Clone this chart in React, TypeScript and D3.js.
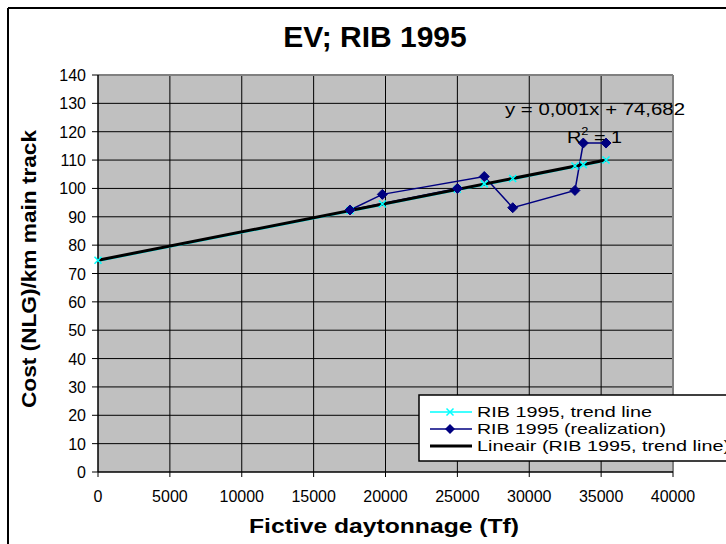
import React from "react";
import * as d3 from "d3";

const title = "EV; RIB 1995";
const xTitle = "Fictive daytonnage (Tf)";
const yTitle = "Cost (NLG)/km main track";
const xTicks = [0, 5000, 10000, 15000, 20000, 25000, 30000, 35000, 40000];
const yTicks = [0, 10, 20, 30, 40, 50, 60, 70, 80, 90, 100, 110, 120, 130, 140];

// RIB 1995, trend line (cyan, x markers)
const trendX = [0, 17530, 19780, 25000, 26870, 28850, 33180, 33760, 35340];
const trendY = [74.7, 92.2, 94.5, 99.7, 101.6, 103.5, 107.9, 108.4, 110.0];

// RIB 1995 (realization) (navy, diamonds)
const realX = [25000, 17530, 19780, 26870, 28850, 33180, 33760, 35340];
const realY = [100.0, 92.4, 97.9, 104.2, 93.2, 99.3, 116.0, 116.0];

// Lineair (RIB 1995, trend line)
const linX = [0, 35340];
const linY = [74.682, 110.0];

const legendLabels = [
  "RIB 1995, trend line",
  "RIB 1995 (realization)",
  "Lineair (RIB 1995, trend line)",
];

const FONT = "'Liberation Sans', Arial, sans-serif";

export default function App() {
  const x = d3.scaleLinear().domain([0, 40000]).range([98, 673]);
  const y = d3.scaleLinear().domain([0, 140]).range([472, 75]);
  const [x0, x1] = x.range();
  const [yb, yt] = y.range();

  const line = d3
    .line<[number, number]>()
    .x((d) => x(d[0]))
    .y((d) => y(d[1]));

  const trendPts: [number, number][] = trendX.map((v, i) => [v, trendY[i]]);
  const realPts: [number, number][] = realX.map((v, i) => [v, realY[i]]);
  const linPts: [number, number][] = linX.map((v, i) => [v, linY[i]]);

  const diamond = (cx: number, cy: number, r: number) =>
    `M${cx},${cy - r}L${cx + r},${cy}L${cx},${cy + r}L${cx - r},${cy}Z`;
  const cross = (cx: number, cy: number, r: number) =>
    `M${cx - r},${cy - r}L${cx + r},${cy + r}M${cx - r},${cy + r}L${cx + r},${cy - r}`;

  const legX = 419;
  const legY = 395;
  const rowY = [412, 429, 446];

  return (
    <svg
      width={726}
      height={544}
      style={{ position: "absolute", left: 0, top: 0, background: "#fff" }}
      fontFamily={FONT}
    >
      {/* chart area border (top and left visible) */}
      <line x1={8} y1={8} x2={726} y2={8} stroke="#000" strokeWidth={2} />
      <line x1={8} y1={8} x2={8} y2={544} stroke="#000" strokeWidth={2} />

      {/* title */}
      <text x={375} y={47} textAnchor="middle" fontSize={30} fontWeight="bold">
        {title}
      </text>

      {/* plot area */}
      <rect x={x0} y={yt} width={x1 - x0} height={yb - yt} fill="#c0c0c0" />

      {/* gridlines */}
      {yTicks.slice(1, -1).map((t) => (
        <line key={"gy" + t} x1={x0} x2={x1} y1={y(t)} y2={y(t)} stroke="#000" strokeWidth={1} />
      ))}
      {xTicks.slice(1, -1).map((t) => (
        <line key={"gx" + t} y1={yt} y2={yb} x1={x(t)} x2={x(t)} stroke="#000" strokeWidth={1} />
      ))}
      {/* plot border top/right */}
      <line x1={x0} x2={x1} y1={yt} y2={yt} stroke="#808080" strokeWidth={2} />
      <line x1={x1} x2={x1} y1={yt} y2={yb} stroke="#808080" strokeWidth={2} />

      {/* axes */}
      <line x1={x0} x2={x1} y1={yb} y2={yb} stroke="#000" strokeWidth={1.5} />
      <line x1={x0} x2={x0} y1={yt} y2={yb} stroke="#000" strokeWidth={1.5} />
      {yTicks.map((t) => (
        <g key={"ty" + t}>
          <line x1={x0 - 6} x2={x0} y1={y(t)} y2={y(t)} stroke="#000" strokeWidth={1} />
          <text x={86} y={y(t) + 6} textAnchor="end" fontSize={16}>
            {t}
          </text>
        </g>
      ))}
      {xTicks.map((t) => (
        <g key={"tx" + t}>
          <line x1={x(t)} x2={x(t)} y1={yb} y2={yb + 5} stroke="#000" strokeWidth={1} />
          <text x={x(t)} y={502} textAnchor="middle" fontSize={16}>
            {t}
          </text>
        </g>
      ))}

      {/* axis titles */}
      <text
        x={384}
        y={533}
        textAnchor="middle"
        fontSize={21}
        fontWeight="bold"
        textLength={270}
        lengthAdjust="spacingAndGlyphs"
      >
        {xTitle}
      </text>
      <text
        transform={`translate(36,269) rotate(-90)`}
        textAnchor="middle"
        fontSize={20}
        fontWeight="bold"
        textLength={278}
        lengthAdjust="spacingAndGlyphs"
      >
        {yTitle}
      </text>

      {/* series */}
      <path d={line(trendPts) || ""} fill="none" stroke="#00ffff" strokeWidth={1.5} transform="translate(0,1)" />
      <path d={line(realPts) || ""} fill="none" stroke="#000080" strokeWidth={1.5} />
      <path d={line(linPts) || ""} fill="none" stroke="#000" strokeWidth={3} />
      {trendPts.map((d, i) => (
        <path key={"tm" + i} d={cross(x(d[0]), y(d[1]), 3.5)} stroke="#00ffff" strokeWidth={1.5} fill="none" />
      ))}
      {realPts.map((d, i) => (
        <path key={"rm" + i} d={diamond(x(d[0]), y(d[1]), 5)} fill="#000080" stroke="#000080" />
      ))}

      {/* trendline equation */}
      <text
        x={505}
        y={115}
        fontSize={17}
        textLength={180}
        lengthAdjust="spacingAndGlyphs"
      >
        y = 0,001x + 74,682
      </text>
      <text x={567} y={143} fontSize={17} textLength={55} lengthAdjust="spacingAndGlyphs">
        R<tspan fontSize={11} dy={-8}>2</tspan>
        <tspan dy={8}> = 1</tspan>
      </text>

      {/* legend */}
      <rect x={legX} y={legY} width={400} height={66} fill="#fff" stroke="#000" strokeWidth={1.5} />
      <line x1={430} x2={472} y1={rowY[0]} y2={rowY[0]} stroke="#00ffff" strokeWidth={1.5} />
      <path d={cross(450, rowY[0], 3.5)} stroke="#00ffff" strokeWidth={1.5} fill="none" />
      <line x1={430} x2={472} y1={rowY[1]} y2={rowY[1]} stroke="#000080" strokeWidth={1.5} />
      <path d={diamond(450, rowY[1], 5)} fill="#000080" />
      <line x1={430} x2={472} y1={rowY[2]} y2={rowY[2]} stroke="#000" strokeWidth={3} />
      {legendLabels.map((l, i) => (
        <text
          key={l}
          x={477}
          y={rowY[i] + 5}
          fontSize={15}
          textLength={[175, 189, 253][i]}
          lengthAdjust="spacingAndGlyphs"
        >
          {l}
        </text>
      ))}
    </svg>
  );
}
